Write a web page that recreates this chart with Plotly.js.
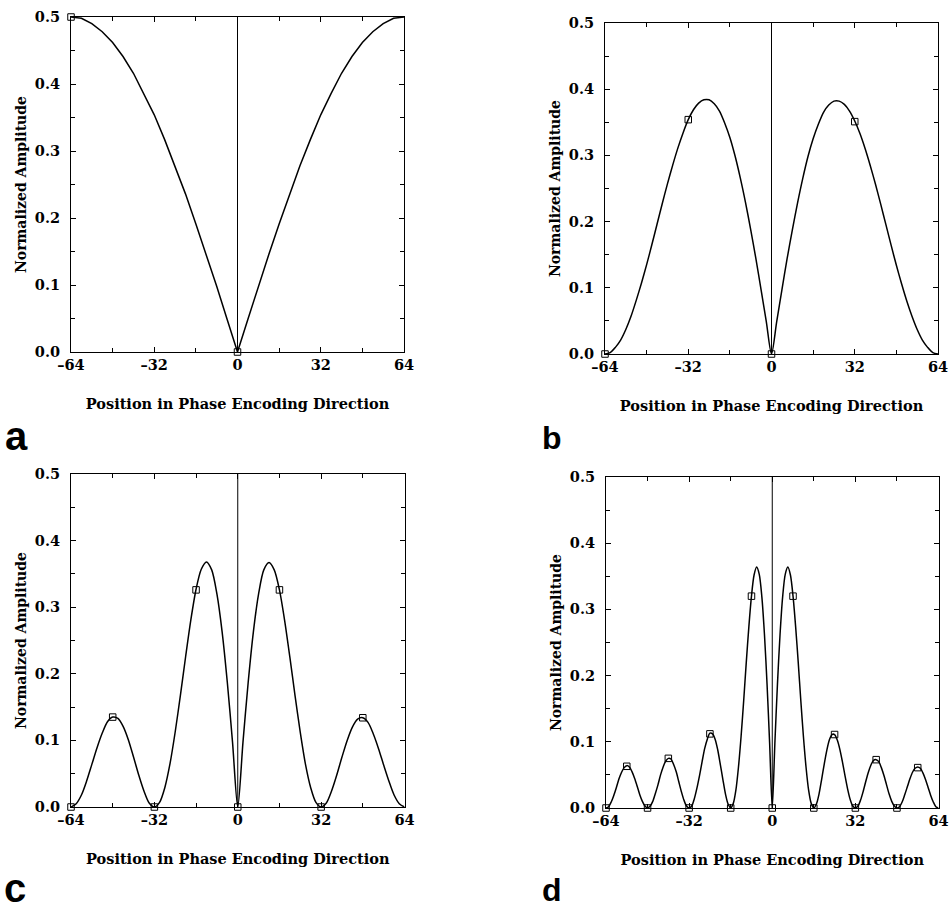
<!DOCTYPE html>
<html>
<head>
<meta charset="utf-8">
<script src="https://cdn.plot.ly/plotly-3.0.1.min.js"></script>
<style>html,body{margin:0;padding:0;background:#fff;}#chart{width:951px;height:913px;}</style>
</head>
<body>
<div id="chart"></div>
<script>
// ---------------- data ----------------
var xTickVals = [-64, -32, 0, 32, 64];
var xTickText = ['\u201364', '\u201332', '0', '32', '64'];
var yTickVals = [0, 0.1, 0.2, 0.3, 0.4, 0.5];
var yTickText = ['0.0', '0.1', '0.2', '0.3', '0.4', '0.5'];
var xTitleText = 'Position in Phase Encoding Direction';
var yTitleText = 'Normalized Amplitude';
var panelLabels = ['a', 'b', 'c', 'd'];

var centerLineX = [0, 0];
var centerLineY = [0, 0.5];

// panel a
var xA = [-64,-60,-56,-52,-48,-44,-40,-36,-32,-28,-24,-20,-16,-12,-8,-4,0,4,8,12,16,20,24,28,32,36,40,44,48,52,56,60,64];
var yA = [0.500,0.498,0.490,0.478,0.462,0.441,0.416,0.386,0.354,0.317,0.278,0.236,0.191,0.145,0.098,0.049,0,
          0.049,0.098,0.145,0.191,0.236,0.278,0.317,0.354,0.386,0.416,0.441,0.462,0.478,0.490,0.498,0.500];
var markAX = [-64, 0];
var markAY = [0.5, 0];

// shared grid for panels b and c
var xBC = [-64,-62,-60,-58,-56,-54,-52,-50,-48,-46,-44,-42,-40,-38,-36,-34,-32,-30,-28,-26,-24,-22,-20,-18,-16,-14,-12,-10,-8,-6,-4,-2,
           0,2,4,6,8,10,12,14,16,18,20,22,24,26,28,30,32,34,36,38,40,42,44,46,48,50,52,54,56,58,60,62,64];
// panel b
var yB = [0,0.002,0.010,0.021,0.037,0.057,0.081,0.107,0.135,0.165,0.196,0.227,0.257,0.285,0.311,0.334,
          0.354,0.369,0.379,0.384,0.384,0.378,0.367,0.349,0.327,0.299,0.266,0.229,0.188,0.144,0.097,0.049,
          0,
          0.049,0.097,0.144,0.187,0.228,0.265,0.298,0.325,0.347,0.365,0.376,0.382,0.382,0.377,0.367,
          0.352,0.333,0.310,0.284,0.256,0.226,0.195,0.164,0.134,0.106,0.080,0.057,0.037,0.021,0.010,0.002,0];
var markBX = [-64, -32, 0, 32];
var markBY = [0, 0.354, 0, 0.351];

// panel c
var yC = [0,0.005,0.018,0.039,0.064,0.089,0.111,0.128,0.135,0.133,0.121,0.101,0.075,0.048,0.024,0.006,
          0,0.007,0.029,0.065,0.113,0.168,0.226,0.281,0.327,0.357,0.368,0.356,0.320,0.263,0.187,0.097,
          0,
          0.097,0.187,0.263,0.320,0.356,0.367,0.356,0.326,0.280,0.225,0.167,0.112,0.064,0.029,0.007,0,
          0.006,0.024,0.048,0.075,0.100,0.120,0.132,0.134,0.127,0.110,0.088,0.063,0.039,0.018,0.005,0];
var markCX = [-64, -48, -32, -16, 0, 16, 32, 48];
var markCY = [0, 0.135, 0, 0.326, 0, 0.326, 0, 0.134];

// panel d
var xD = [-64,-63,-62,-61,-60,-59,-58,-57,-56,-55,-54,-53,-52,-51,-50,-49,-48,-47,-46,-45,-44,-43,-42,-41,-40,-39,-38,-37,-36,-35,-34,-33,
          -32,-31,-30,-29,-28,-27,-26,-25,-24,-23,-22,-21,-20,-19,-18,-17,-16,-15,-14,-13,-12,-11,-10,-9,-8,-7,-6,-5,-4,-3,-2,-1,
          0,1,2,3,4,5,6,7,8,9,10,11,12,13,14,15,16,17,18,19,20,21,22,23,24,25,26,27,28,29,30,31,
          32,33,34,35,36,37,38,39,40,41,42,43,44,45,46,47,48,49,50,51,52,53,54,55,56,57,58,59,60,61,62,63,64];
var yD = [0,0.002,0.009,0.019,0.031,0.044,0.054,0.061,0.064,0.062,0.055,0.045,0.033,0.020,0.010,0.003,
          0,0.003,0.010,0.022,0.035,0.050,0.062,0.071,0.075,0.074,0.066,0.055,0.040,0.025,0.012,0.003,
          0,0.003,0.014,0.030,0.049,0.070,0.090,0.104,0.113,0.112,0.104,0.088,0.066,0.043,0.021,0.006,
          0,0.007,0.027,0.062,0.108,0.162,0.220,0.274,0.320,0.352,0.364,0.353,0.319,0.262,0.187,0.097,
          0,
          0.097,0.187,0.262,0.319,0.353,0.364,0.352,0.320,0.274,0.220,0.162,0.108,0.062,0.027,0.007,0,
          0.006,0.021,0.043,0.066,0.087,0.103,0.111,0.111,0.103,0.089,0.070,0.049,0.029,0.013,0.003,0,
          0.003,0.012,0.025,0.040,0.054,0.065,0.072,0.073,0.070,0.061,0.049,0.035,0.021,0.010,0.003,0,
          0.002,0.009,0.020,0.032,0.044,0.054,0.060,0.062,0.060,0.053,0.043,0.031,0.019,0.009,0.002,0];
var markDX = [-64,-56,-48,-40,-32,-24,-16,-8,0,8,16,24,32,40,48,56];
var markDY = [0,0.063,0,0.075,0,0.112,0,0.320,0,0.320,0,0.111,0,0.073,0,0.061];

// ---------------- drawing ----------------
var serif = 'DejaVu Serif, Liberation Serif, serif';
var panels = [
  {x: xA, y: yA, mx: markAX, my: markAY, xd: [71/951, 404/951], yd: [1-352/913, 1-17/913], shape: 'linear'},
  {x: xBC, y: yB, mx: markBX, my: markBY, xd: [605/951, 938/951], yd: [1-354/913, 1-23/913], shape: 'spline'},
  {x: xBC, y: yC, mx: markCX, my: markCY, xd: [71/951, 404.5/951], yd: [1-807/913, 1-474/913], shape: 'spline'},
  {x: xD, y: yD, mx: markDX, my: markDY, xd: [606/951, 938.5/951], yd: [1-808/913, 1-477/913], shape: 'spline'}
];
var labelPos = [
  {x: 16/951, y: 1-436/913, size: 40},
  {x: 552/951, y: 1-438/913, size: 32},
  {x: 15/951, y: 1-888/913, size: 40},
  {x: 552/951, y: 1-890/913, size: 32}
];

var traces = [];
var layout = {
  width: 951, height: 913,
  margin: {l: 0, r: 0, t: 0, b: 0},
  paper_bgcolor: '#ffffff', plot_bgcolor: '#ffffff',
  showlegend: false,
  font: {family: serif, color: '#000', size: 14},
  annotations: []
};

panels.forEach(function (p, i) {
  var n = i === 0 ? '' : String(i + 1);
  var xr = 'x' + n, yr = 'y' + n;
  traces.push({x: centerLineX, y: centerLineY, xaxis: xr, yaxis: yr, mode: 'lines',
               line: {color: '#000', width: 1}, hoverinfo: 'skip'});
  traces.push({x: p.x, y: p.y, xaxis: xr, yaxis: yr, mode: 'lines',
               line: {color: '#000', width: 1.5, shape: p.shape, smoothing: 0.8}});
  traces.push({x: p.mx, y: p.my, xaxis: xr, yaxis: yr, mode: 'markers', cliponaxis: false,
               marker: {symbol: 'square-open', size: 6.5, color: '#000', line: {width: 1, color: '#000'}}});
  var tickFont = {family: serif, size: 14.5, weight: 'bold', color: '#000'};
  layout['xaxis' + n] = {
    domain: p.xd, anchor: yr, range: [-64, 64],
    tickmode: 'array', tickvals: xTickVals, ticktext: xTickText,
    ticks: 'inside', ticklen: 5, tickwidth: 1, tickcolor: '#000',
    minor: {tickmode: 'linear', tick0: -64, dtick: 16, ticks: 'inside', ticklen: 4, tickwidth: 1, tickcolor: '#000'},
    showline: true, linecolor: '#000', linewidth: 1, mirror: 'allticks',
    showgrid: false, zeroline: false, fixedrange: true,
    tickfont: tickFont, ticklabelstandoff: 0,
    title: {text: xTitleText, font: {family: serif, size: 14.5, weight: 'bold', color: '#000'}, standoff: 26}
  };
  layout['yaxis' + n] = {
    domain: p.yd, anchor: xr, range: [0, 0.5],
    tickmode: 'array', tickvals: yTickVals, ticktext: yTickText,
    ticks: 'inside', ticklen: 5, tickwidth: 1, tickcolor: '#000',
    minor: {tickmode: 'linear', tick0: 0, dtick: 0.05, ticks: 'inside', ticklen: 4, tickwidth: 1, tickcolor: '#000'},
    showline: true, linecolor: '#000', linewidth: 1, mirror: 'allticks',
    showgrid: false, zeroline: false, fixedrange: true,
    tickfont: tickFont, ticklabelstandoff: 7,
    title: {text: yTitleText, font: {family: serif, size: 14, weight: 'bold', color: '#000'}, standoff: 4}
  };
  layout.annotations.push({
    text: panelLabels[i], xref: 'paper', yref: 'paper', x: labelPos[i].x, y: labelPos[i].y,
    xanchor: 'center', yanchor: 'middle', showarrow: false,
    font: {family: 'Liberation Sans, Arial, sans-serif', size: labelPos[i].size, weight: 'bold', color: '#000'}
  });
});

Plotly.newPlot('chart', traces, layout, {staticPlot: true, displayModeBar: false});
</script>
</body>
</html>
